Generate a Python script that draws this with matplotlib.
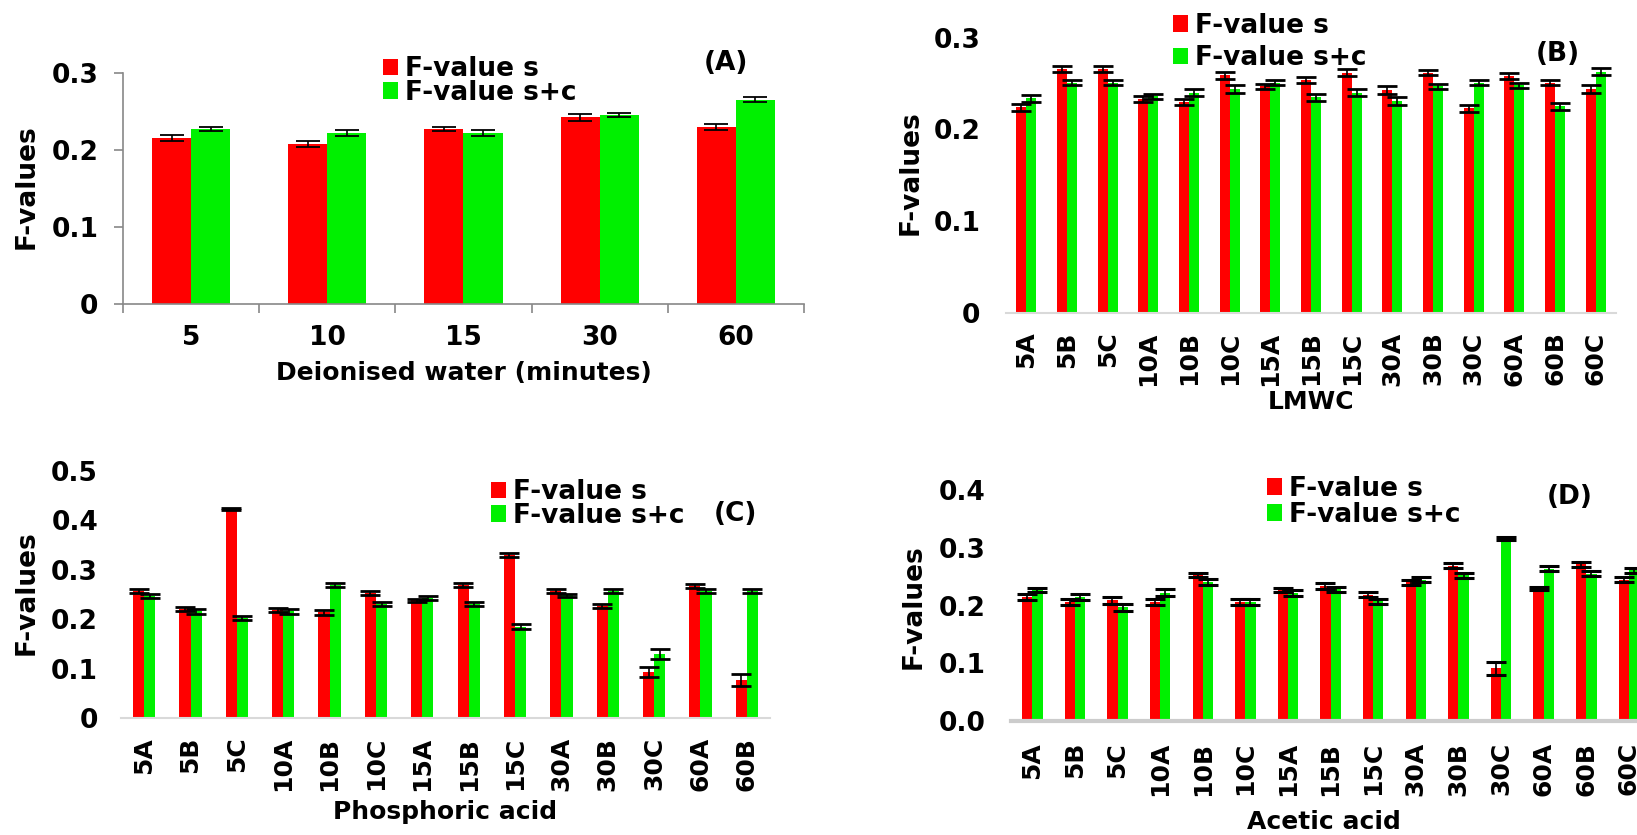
import numpy as np
import matplotlib.pyplot as plt

plt.rcParams['font.family'] = ['DejaVu Sans']
plt.rcParams['font.weight'] = 'bold'
plt.rcParams['axes.labelweight'] = 'bold'

RED = '#ff0000'
GREEN = '#00f000'

# (A) Deionised water
water_minutes = ['5', '10', '15', '30', '60']
water_s = [0.215, 0.207, 0.227, 0.242, 0.230]
water_sc = [0.227, 0.222, 0.222, 0.245, 0.265]
water_s_err = [0.004, 0.004, 0.003, 0.004, 0.004]
water_sc_err = [0.003, 0.004, 0.004, 0.003, 0.003]

# (B) LMWC
lmwc_labels = ['5A', '5B', '5C', '10A', '10B', '10C', '15A', '15B', '15C',
               '30A', '30B', '30C', '60A', '60B', '60C']
lmwc_s = [0.224, 0.266, 0.266, 0.233, 0.230, 0.259, 0.247, 0.254, 0.262,
          0.243, 0.262, 0.223, 0.258, 0.251, 0.244]
lmwc_sc = [0.234, 0.251, 0.251, 0.236, 0.240, 0.244, 0.251, 0.235, 0.240,
           0.231, 0.247, 0.251, 0.248, 0.225, 0.263]
lmwc_s_err = [0.004, 0.003, 0.003, 0.003, 0.003, 0.004, 0.003, 0.003, 0.004,
              0.004, 0.003, 0.004, 0.003, 0.003, 0.004]
lmwc_sc_err = [0.004, 0.003, 0.003, 0.003, 0.004, 0.004, 0.003, 0.004, 0.004,
               0.004, 0.003, 0.003, 0.003, 0.004, 0.004]

# (C) Phosphoric acid
phos_labels = ['5A', '5B', '5C', '10A', '10B', '10C', '15A', '15B', '15C',
               '30A', '30B', '30C', '60A', '60B']
phos_s = [0.257, 0.221, 0.423, 0.219, 0.214, 0.253, 0.238, 0.269, 0.330,
          0.257, 0.227, 0.093, 0.268, 0.077]
phos_sc = [0.247, 0.216, 0.203, 0.216, 0.270, 0.231, 0.243, 0.231, 0.185,
           0.248, 0.258, 0.129, 0.258, 0.258]
phos_s_err = [0.004, 0.004, 0.002, 0.004, 0.005, 0.004, 0.003, 0.004, 0.004,
              0.004, 0.004, 0.010, 0.004, 0.013]
phos_sc_err = [0.004, 0.005, 0.004, 0.005, 0.004, 0.004, 0.004, 0.004, 0.005,
               0.004, 0.004, 0.010, 0.004, 0.004]

# (D) Acetic acid
acetic_labels = ['5A', '5B', '5C', '10A', '10B', '10C', '15A', '15B', '15C',
                 '30A', '30B', '30C', '60A', '60B', '60C']
acetic_s = [0.215, 0.206, 0.209, 0.206, 0.253, 0.206, 0.227, 0.234, 0.219,
            0.240, 0.269, 0.091, 0.229, 0.271, 0.245]
acetic_sc = [0.227, 0.215, 0.197, 0.222, 0.241, 0.206, 0.221, 0.228, 0.207,
             0.245, 0.252, 0.316, 0.264, 0.255, 0.261]
acetic_s_err = [0.005, 0.005, 0.006, 0.005, 0.004, 0.005, 0.003, 0.005, 0.004,
                0.005, 0.004, 0.012, 0.003, 0.005, 0.005]
acetic_sc_err = [0.004, 0.005, 0.006, 0.006, 0.005, 0.005, 0.005, 0.004, 0.005,
                 0.005, 0.004, 0.002, 0.004, 0.004, 0.004]

W, H = 1637, 835
TICK_FS = 19
ROT_FS = 18
LABEL_FS = 18
LEG_FS = 19

fig = plt.figure(figsize=(W / 100, H / 100), dpi=100)


def axes_px(left, right, top, bottom):
    """Create axes from pixel edges of the plotting area."""
    return fig.add_axes([left / W, 1 - bottom / H, (right - left) / W, (bottom - top) / H])


def grouped_bars(ax, s, sc, s_err, sc_err, width, capsize, capthick):
    x = np.arange(len(s))
    ax.bar(x - width / 2, s, width, color=RED, label='F-value s', zorder=2)
    ax.bar(x + width / 2, sc, width, color=GREEN, label='F-value s+c', zorder=2)
    for xs, ys, es in ((x - width / 2, s, s_err), (x + width / 2, sc, sc_err)):
        ax.errorbar(xs, ys, yerr=es, fmt='none', ecolor='black', elinewidth=1.2,
                    capsize=capsize, capthick=capthick, zorder=3)
    return x


def legend_at(ax, px, py_mid, spacing):
    ax.legend(loc='center left', bbox_to_anchor=(px / W, 1 - py_mid / H),
              bbox_transform=fig.transFigure, frameon=False, borderpad=0,
              borderaxespad=0, handlelength=0.55, handleheight=0.58,
              handletextpad=0.28, labelspacing=spacing,
              prop={'size': LEG_FS, 'weight': 'bold'})


def common_y(ax, ticks, labels, pad, length=0):
    ax.set_yticks(ticks)
    ax.set_yticklabels(labels)
    ax.tick_params(axis='y', labelsize=TICK_FS, length=length, pad=pad,
                   color='#888888', width=1.2)


def rotated_x(ax, x, labels, pad):
    ax.set_xticks(x)
    ax.set_xticklabels(labels, rotation=90)
    ax.tick_params(axis='x', labelsize=ROT_FS, length=0, pad=pad)


def bottom_only(ax, color, lw):
    for sp in ('top', 'right', 'left'):
        ax.spines[sp].set_visible(False)
    ax.spines['bottom'].set_color(color)
    ax.spines['bottom'].set_linewidth(lw)


# ---- (A) ----
axA = axes_px(123, 804, 72.7, 304)
xA = grouped_bars(axA, water_s, water_sc, water_s_err, water_sc_err, 0.287, 8.5, 1.3)
axA.set_xlim(-0.5, len(water_minutes) - 0.5)
axA.set_ylim(0, 0.3)
common_y(axA, [0, 0.1, 0.2, 0.3], ['0', '0.1', '0.2', '0.3'], pad=11, length=6.7)
axA.set_xticks(np.arange(len(water_minutes) + 1) - 0.5)
axA.set_xticklabels([])
axA.tick_params(axis='x', which='major', length=6.7, color='#888888', width=1.2)
axA.set_xticks(xA, minor=True)
axA.set_xticklabels(water_minutes, minor=True)
axA.tick_params(axis='x', which='minor', length=0, pad=15, labelsize=TICK_FS)
for sp in ('top', 'right'):
    axA.spines[sp].set_visible(False)
for sp in ('left', 'bottom'):
    axA.spines[sp].set_color('#888888')
    axA.spines[sp].set_linewidth(1.2)
axA.set_xlabel('Deionised water (minutes)', fontsize=LABEL_FS, va='center')
axA.xaxis.set_label_coords(0.5, -0.298)
axA.set_ylabel('F-values', fontsize=TICK_FS, va='center')
axA.yaxis.set_label_coords(-0.142, 0.506)
legend_at(axA, 383, 81, -0.08)
axA.text(0.885, 1.042, '(A)', transform=axA.transAxes, fontsize=TICK_FS,
         ha='center', va='center')

# ---- (B) ----
axB = axes_px(1006, 1616, 37.7, 312.7)
xB = grouped_bars(axB, lmwc_s, lmwc_sc, lmwc_s_err, lmwc_sc_err, 0.245, 7.5, 2)
axB.set_xlim(-0.5, len(lmwc_labels) - 0.5)
axB.set_ylim(0, 0.3)
common_y(axB, [0, 0.1, 0.2, 0.3], ['0', '0.1', '0.2', '0.3'], pad=18.5)
rotated_x(axB, xB, lmwc_labels, pad=13.5)
bottom_only(axB, '#d9d9d9', 1.5)
axB.set_xlabel('LMWC', fontsize=LABEL_FS, va='center')
axB.xaxis.set_label_coords(0.5, -0.325)
axB.set_ylabel('F-values', fontsize=TICK_FS, va='center')
axB.yaxis.set_label_coords(-0.157, 0.508)
legend_at(axB, 1173, 42, 0.25)
axB.text(0.905, 0.94, '(B)', transform=axB.transAxes, fontsize=TICK_FS,
         ha='center', va='center')

# ---- (C) ----
axC = axes_px(121, 770, 471, 718)
xC = grouped_bars(axC, phos_s, phos_sc, phos_s_err, phos_sc_err, 0.24, 7.5, 2)
axC.set_xlim(-0.5, len(phos_labels) - 0.5)
axC.set_ylim(0, 0.5)
common_y(axC, [0, 0.1, 0.2, 0.3, 0.4, 0.5],
         ['0', '0.1', '0.2', '0.3', '0.4', '0.5'], pad=16.5)
rotated_x(axC, xC, phos_labels, pad=13.5)
bottom_only(axC, '#d9d9d9', 1.5)
axC.set_xlabel('Phosphoric acid', fontsize=LABEL_FS, va='center')
axC.xaxis.set_label_coords(0.5, -0.380)
axC.set_ylabel('F-values', fontsize=TICK_FS, va='center')
axC.yaxis.set_label_coords(-0.146, 0.506)
legend_at(axC, 491, 504, -0.08)
axC.text(0.946, 0.826, '(C)', transform=axC.transAxes, fontsize=TICK_FS,
         ha='center', va='center')

# ---- (D) ----
axD = axes_px(1011, 1637, 490, 721)
xD = grouped_bars(axD, acetic_s, acetic_sc, acetic_s_err, acetic_sc_err, 0.24, 7.5, 2.2)
axD.set_xlim(-0.5, 14.19)
axD.set_ylim(0, 0.4)
common_y(axD, [0, 0.1, 0.2, 0.3, 0.4], ['0.0', '0.1', '0.2', '0.3', '0.4'], pad=18.5)
rotated_x(axD, xD, acetic_labels, pad=15)
bottom_only(axD, '#cccccc', 3)
axD.set_xlabel('Acetic acid', fontsize=LABEL_FS, va='center')
axD.xaxis.set_label_coords(0.5, -0.437)
axD.set_ylabel('F-values', fontsize=TICK_FS, va='center')
axD.yaxis.set_label_coords(-0.155, 0.494)
legend_at(axD, 1267, 502, 0.0)
axD.text(0.893, 0.97, '(D)', transform=axD.transAxes, fontsize=TICK_FS,
         ha='center', va='center')

fig.savefig('out.png', dpi=100, facecolor='white')
